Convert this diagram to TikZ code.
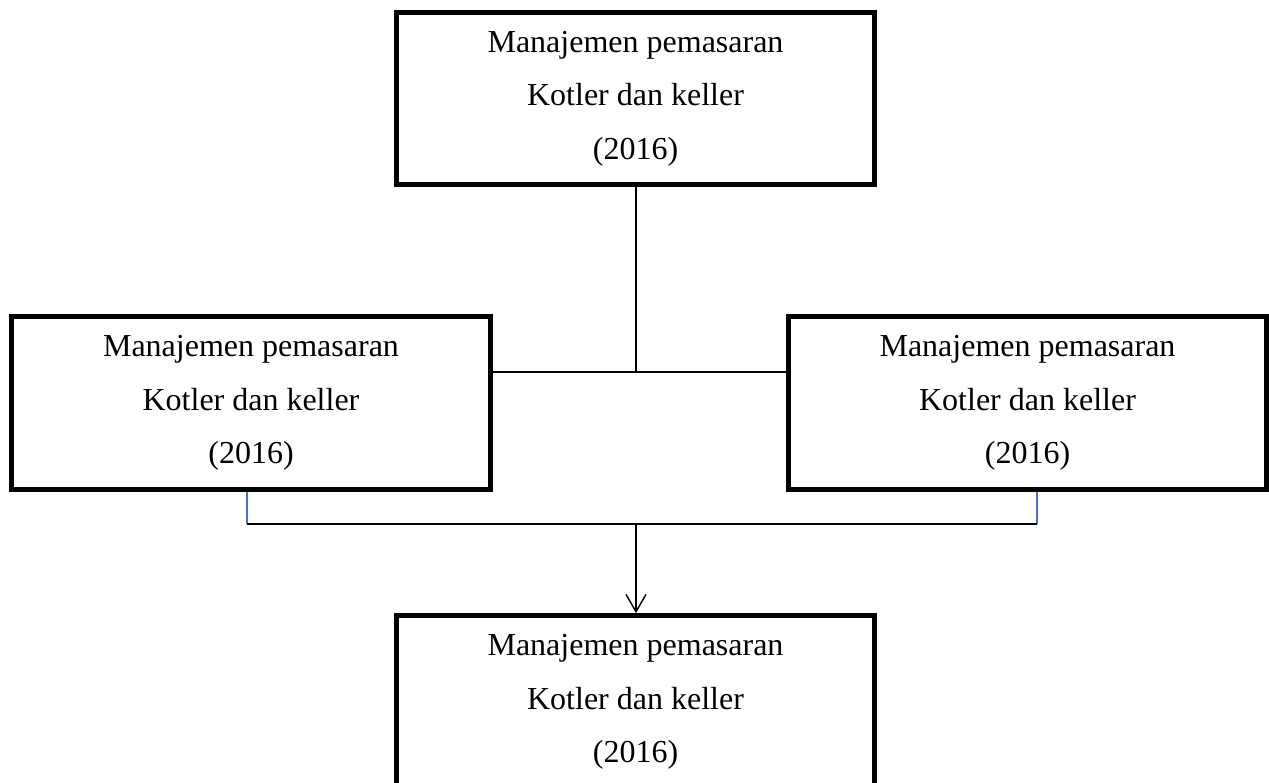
\documentclass[tikz,border=0pt]{standalone}
\usepackage{fontspec}
\setmainfont{Liberation Serif}
\usetikzlibrary{arrows.meta}
\definecolor{tickblue}{RGB}{68,114,196}
\begin{document}
\begin{tikzpicture}[x=0.75pt,y=-0.75pt,
  box/.style={draw=black,line width=3.75pt,minimum width=359pt,minimum height=129.5pt,
    inner sep=0pt,align=center,font=\fontsize{24}{40}\selectfont},
  conn/.style={draw=black,line width=1.1pt},
  bluetick/.style={draw=tickblue,line width=1.1pt}]
\useasboundingbox (0,0) rectangle (1269,782);
\node[box] (top) at (635.5,98.5) {Manajemen pemasaran\\Kotler dan keller\\(2016)};
\node[box] (left) at (251,403) {Manajemen pemasaran\\Kotler dan keller\\(2016)};
\node[box] (right) at (1027.5,403) {Manajemen pemasaran\\Kotler dan keller\\(2016)};
\node[box] (bottom) at (635.5,702) {Manajemen pemasaran\\Kotler dan keller\\(2016)};
\coordinate (j1) at (636,372);
\coordinate (tl) at (247,524);
\coordinate (tr) at (1037,524);
\coordinate (j2) at (636,524);
\draw[conn] (top.south -| j1) -- (j1);
\draw[conn] (left.east |- j1) -- (j1) -- (right.west |- j1);
\draw[bluetick] (left.south -| tl) -- (tl);
\draw[bluetick] (right.south -| tr) -- (tr);
\draw[conn] (tl) -- (tr);
\draw[conn,-{Straight Barb[length=13pt,width=15pt]}] (j2) -- (bottom.north -| j2);
\end{tikzpicture}
\end{document}
